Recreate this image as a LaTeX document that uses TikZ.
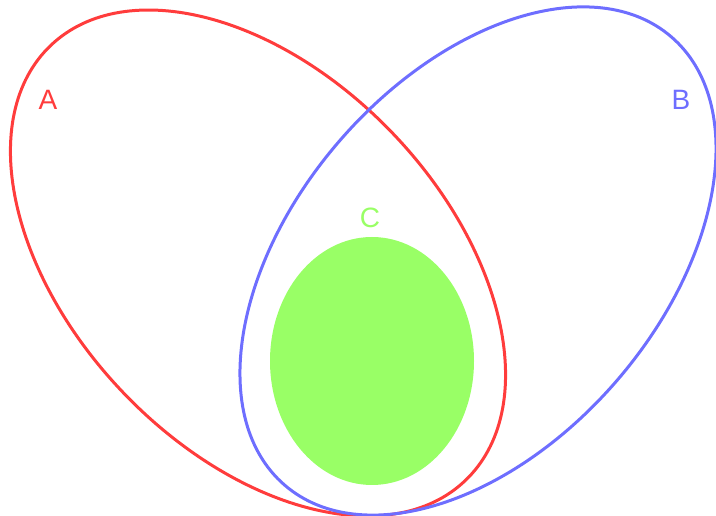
\documentclass[tikz,border=0pt]{standalone}
\usepackage{fontspec}
\setmainfont{Liberation Sans}
\definecolor{setred}{RGB}{255,60,60}
\definecolor{setblue}{RGB}{110,110,255}
\definecolor{setgreen}{RGB}{153,255,102}
\begin{document}
\begin{tikzpicture}[x=1pt,y=1pt,
    setline/.style={line width=3pt},
    setlabel/.style={font=\fontsize{28}{32}\selectfont}]
  \useasboundingbox (0,0) rectangle (716,516);
  \fill[setgreen] (372,155) ellipse [x radius=102, y radius=124];
  \draw[setline,setred,rotate around={-46.4:(258,253)}] (258,253) ellipse [x radius=300.5, y radius=187];
  \draw[setline,setblue,rotate around={49.2:(478,255)}] (478,255) ellipse [x radius=296, y radius=183.3];
  \node[setlabel,text=setred] (A) at (48,416) {A};
  \node[setlabel,text=setblue] (B) at (681,416) {B};
  \node[setlabel,text=setgreen] (C) at (370,298) {C};
\end{tikzpicture}
\end{document}
